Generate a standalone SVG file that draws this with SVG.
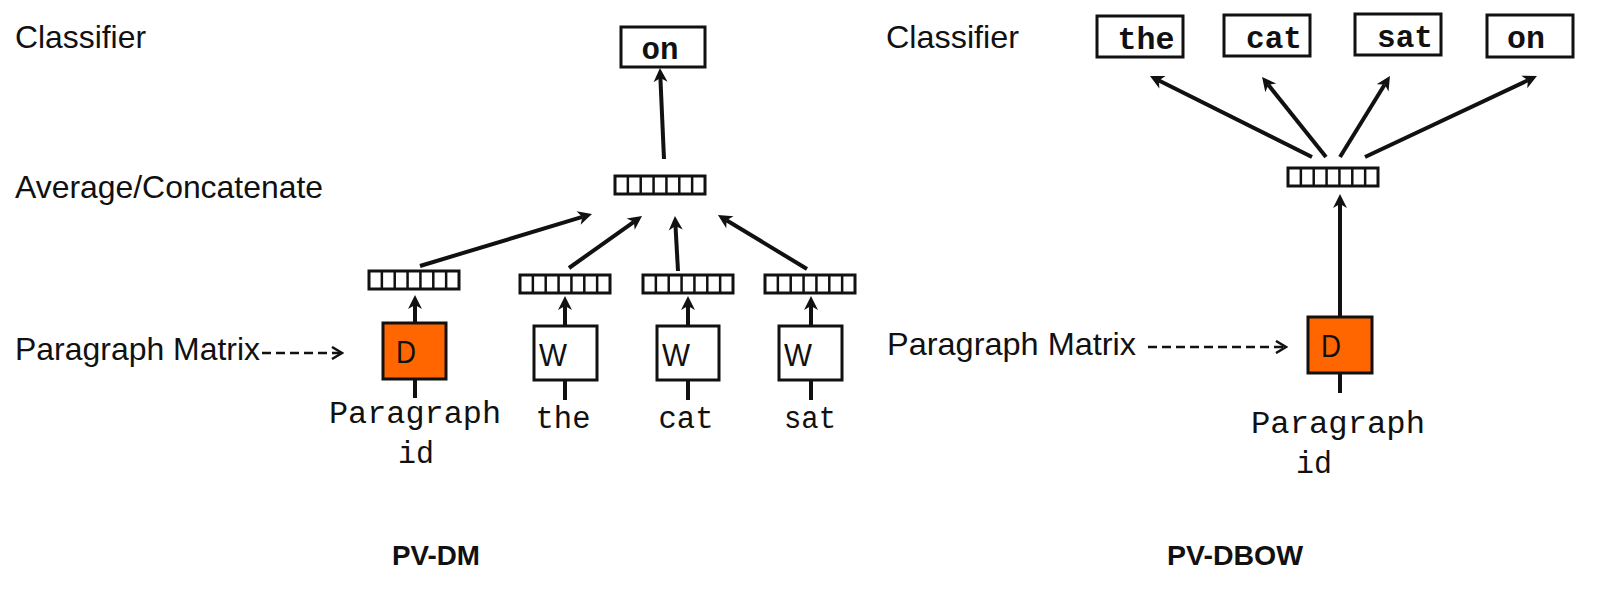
<svg xmlns="http://www.w3.org/2000/svg" xmlns:xlink="http://www.w3.org/1999/xlink" width="1597" height="590" viewBox="0 0 1597 590">
<style>
.lab{font-family:"Liberation Sans",Arial,sans-serif;font-size:32px;fill:#111}
.mono{font-family:"Liberation Mono","Courier New",monospace;font-size:31px;fill:#111}
.monob{font-family:"Liberation Mono","Courier New",monospace;font-size:31px;font-weight:bold;fill:#111}
.title{font-family:"Liberation Sans",Arial,sans-serif;font-size:28px;font-weight:bold;fill:#111}
.box{fill:#fff;stroke:#111;stroke-width:3}
.dbox{fill:#FF6600;stroke:#111;stroke-width:3}
.arr{stroke:#111;stroke-width:4;fill:none;marker-end:url(#ah)}
.stub{stroke:#111;stroke-width:4;fill:none}
.dash{stroke:#111;stroke-width:2.5;fill:none;stroke-dasharray:9 5;marker-end:url(#chev)}
.vec rect{fill:#fff;stroke:#111;stroke-width:3}
.vec line{stroke:#111;stroke-width:2.5}
</style>
<defs>
<marker id="ah" markerUnits="userSpaceOnUse" markerWidth="16" markerHeight="16" viewBox="0 0 14 16" refX="4" refY="8" orient="auto">
<path d="M0,1 L14,8 L0,15 L4,8 z" fill="#111"/>
</marker>
<marker id="chev" markerUnits="userSpaceOnUse" markerWidth="14" markerHeight="14" viewBox="0 0 14 14" refX="12" refY="7" orient="auto">
<path d="M2,1 L12,7 L2,13" fill="none" stroke="#111" stroke-width="2.5"/>
</marker>
<g id="vec" class="vec">
<rect x="0" y="0" width="90" height="18"/>
<line x1="12.86" y1="0" x2="12.86" y2="18"/>
<line x1="25.71" y1="0" x2="25.71" y2="18"/>
<line x1="38.57" y1="0" x2="38.57" y2="18"/>
<line x1="51.43" y1="0" x2="51.43" y2="18"/>
<line x1="64.29" y1="0" x2="64.29" y2="18"/>
<line x1="77.14" y1="0" x2="77.14" y2="18"/>
</g>
</defs>
<rect width="1597" height="590" fill="#fff"/>

<g id="labels">
<text class="lab" x="15" y="48" textLength="131" lengthAdjust="spacingAndGlyphs">Classifier</text>
<text class="lab" x="15" y="198" textLength="308" lengthAdjust="spacingAndGlyphs">Average/Concatenate</text>
<text class="lab" x="15" y="360" textLength="245" lengthAdjust="spacingAndGlyphs">Paragraph Matrix</text>
<text class="lab" x="886" y="48" textLength="133" lengthAdjust="spacingAndGlyphs">Classifier</text>
<text class="lab" x="887" y="355" textLength="249" lengthAdjust="spacingAndGlyphs">Paragraph Matrix</text>
<text class="title" x="392" y="565" textLength="88" lengthAdjust="spacingAndGlyphs">PV-DM</text>
<text class="title" x="1167" y="565" textLength="136" lengthAdjust="spacingAndGlyphs">PV-DBOW</text>
</g>

<g id="connectors">
<path class="dash" d="M262,353 L342,353"/>
<path class="dash" d="M1148,347 L1286,347"/>
<path class="arr" d="M664,159 L660.4,78"/>
<path class="arr" d="M420,266 L582.4,216.9"/>
<path class="arr" d="M569,268 L633.9,221.8"/>
<path class="arr" d="M678,271 L675.5,226"/>
<path class="arr" d="M807,269 L726.5,220.2"/>
<path class="arr" d="M415,323 L415,305"/>
<path class="arr" d="M565,326 L565,306"/>
<path class="arr" d="M688,326 L688,306"/>
<path class="arr" d="M811,326 L811,306"/>
<path class="stub" d="M415,379 L415,398"/>
<path class="stub" d="M565,380 L565,400"/>
<path class="stub" d="M688,380 L688,400"/>
<path class="stub" d="M811,380 L811,400"/>
<path class="arr" d="M1312,157 L1158.9,80.5"/>
<path class="arr" d="M1326,157 L1268.3,84.8"/>
<path class="arr" d="M1340,157 L1384.7,84.5"/>
<path class="arr" d="M1365,157 L1527.9,80.3"/>
<path class="arr" d="M1340,317 L1340,204"/>
<path class="stub" d="M1340,373 L1340,393"/>
</g>

<g id="dm-on">
<rect class="box" x="621" y="27" width="84" height="40"/>
<text class="monob" x="660" y="59" text-anchor="middle" textLength="37" lengthAdjust="spacingAndGlyphs">on</text>
</g>
<g id="dm-avg"><use xlink:href="#vec" x="615" y="176"/></g>
<g id="dm-vec-p"><use xlink:href="#vec" x="369" y="271"/></g>
<g id="dm-vec-the"><use xlink:href="#vec" x="520" y="275"/></g>
<g id="dm-vec-cat"><use xlink:href="#vec" x="643" y="275"/></g>
<g id="dm-vec-sat"><use xlink:href="#vec" x="765" y="275"/></g>
<g id="dm-d">
<rect class="dbox" x="383" y="323" width="63" height="56"/>
<text class="lab" x="396" y="363" font-size="28" textLength="20" lengthAdjust="spacingAndGlyphs">D</text>
</g>
<g id="dm-w1">
<rect class="box" x="534" y="326" width="63" height="54"/>
<text class="lab" x="539" y="366" font-size="28" textLength="28" lengthAdjust="spacingAndGlyphs">W</text>
</g>
<g id="dm-w2">
<rect class="box" x="657" y="326" width="62" height="54"/>
<text class="lab" x="662" y="366" font-size="28" textLength="28" lengthAdjust="spacingAndGlyphs">W</text>
</g>
<g id="dm-w3">
<rect class="box" x="779" y="326" width="63" height="54"/>
<text class="lab" x="784" y="366" font-size="28" textLength="28" lengthAdjust="spacingAndGlyphs">W</text>
</g>
<g id="dm-inputs">
<text class="mono" x="415" y="423" text-anchor="middle" textLength="172" lengthAdjust="spacingAndGlyphs">Paragraph</text>
<text class="mono" x="416" y="463" text-anchor="middle" textLength="36" lengthAdjust="spacingAndGlyphs">id</text>
<text class="mono" x="563" y="428" text-anchor="middle" textLength="55" lengthAdjust="spacingAndGlyphs">the</text>
<text class="mono" x="686" y="428" text-anchor="middle" textLength="55" lengthAdjust="spacingAndGlyphs">cat</text>
<text class="mono" x="810" y="428" text-anchor="middle" textLength="52" lengthAdjust="spacingAndGlyphs">sat</text>
</g>

<g id="dbow-the">
<rect class="box" x="1097" y="16" width="86" height="41"/>
<text class="monob" x="1146" y="49" text-anchor="middle" textLength="57" lengthAdjust="spacingAndGlyphs">the</text>
</g>
<g id="dbow-cat">
<rect class="box" x="1224" y="15" width="86" height="41"/>
<text class="monob" x="1274" y="48" text-anchor="middle" textLength="56" lengthAdjust="spacingAndGlyphs">cat</text>
</g>
<g id="dbow-sat">
<rect class="box" x="1355" y="14" width="86" height="41"/>
<text class="monob" x="1405" y="47" text-anchor="middle" textLength="56" lengthAdjust="spacingAndGlyphs">sat</text>
</g>
<g id="dbow-on">
<rect class="box" x="1487" y="15" width="86" height="42"/>
<text class="monob" x="1526" y="48" text-anchor="middle" textLength="38" lengthAdjust="spacingAndGlyphs">on</text>
</g>
<g id="dbow-vec"><use xlink:href="#vec" x="1288" y="168"/></g>
<g id="dbow-d">
<rect class="dbox" x="1308" y="317" width="64" height="56"/>
<text class="lab" x="1321" y="357" font-size="28" textLength="20" lengthAdjust="spacingAndGlyphs">D</text>
</g>
<g id="dbow-input">
<text class="mono" x="1338" y="433" text-anchor="middle" textLength="174" lengthAdjust="spacingAndGlyphs">Paragraph</text>
<text class="mono" x="1314" y="473" text-anchor="middle" textLength="36" lengthAdjust="spacingAndGlyphs">id</text>
</g>
</svg>
